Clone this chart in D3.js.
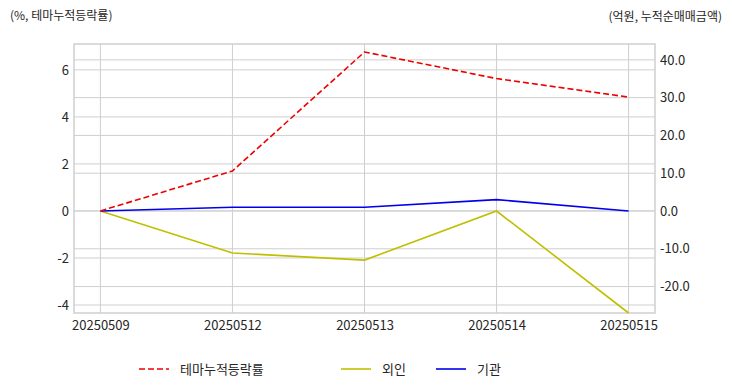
<!DOCTYPE html>
<html><head><meta charset="utf-8">
<script src="https://cdn.jsdelivr.net/npm/d3@7"></script>
<style>body{margin:0;background:#fff;}svg{display:block;font-family:"Noto Sans CJK KR","Noto Sans",sans-serif;}</style>
</head><body><svg id="c" width="732" height="392"></svg>
<script>
const dates = ["20250509","20250512","20250513","20250514","20250515"];
const themeRate = [0, 1.70, 6.76, 5.63, 4.84];
const foreign = [0, -11.1, -13.0, 0, -27.0];
const institution = [0, 1.0, 1.0, 3.0, 0];
const leftTicks = [-4,-2,0,2,4,6];
const rightTicks = [-20,-10,0,10,20,30,40];

const svg = d3.select("#c");
const L = 74, R = 655, T = 44, B = 313;
const x = d3.scalePoint().domain(dates).range([L, R]).padding(0.2);
const yL = d3.scaleLinear().domain([-4.34, 7.1]).range([B, T]);
const yR = d3.scaleLinear().domain([-27.0, 44.2]).range([B, T]);
const grid = "#cfcfcf", txt = "#262626";
const hy = f => d => f(d).replace("\u2212","-");

const g = svg.append("g");
g.selectAll(".gl").data(leftTicks).join("line").attr("x1",L).attr("x2",R)
 .attr("y1",d=>yL(d)).attr("y2",d=>yL(d)).attr("stroke",grid).attr("stroke-width",1);
g.selectAll(".gr").data(rightTicks).join("line").attr("x1",L).attr("x2",R)
 .attr("y1",d=>yR(d)).attr("y2",d=>yR(d)).attr("stroke",grid).attr("stroke-width",1);
g.selectAll(".gx").data(dates).join("line").attr("x1",d=>x(d)).attr("x2",d=>x(d))
 .attr("y1",T).attr("y2",B).attr("stroke",grid).attr("stroke-width",1);
g.append("rect").attr("x",L).attr("y",T).attr("width",R-L).attr("height",B-T)
 .attr("fill","none").attr("stroke",grid).attr("stroke-width",1.5);

const axL = svg.append("g").attr("transform",`translate(${L},0)`)
 .call(d3.axisLeft(yL).tickValues(leftTicks).tickSize(0).tickPadding(5).tickFormat(hy(d3.format("d"))));
const axR = svg.append("g").attr("transform",`translate(${R},0)`)
 .call(d3.axisRight(yR).tickValues(rightTicks).tickSize(0).tickPadding(5).tickFormat(hy(d3.format(".1f"))));
const axX = svg.append("g").attr("transform",`translate(0,${B})`)
 .call(d3.axisBottom(x).tickSize(0).tickPadding(8));
[axL,axR,axX].forEach(a=>{a.select(".domain").remove();
 a.selectAll("text").attr("fill",txt).style("font-size","13px").style("font-family",'"Noto Sans CJK KR",sans-serif');});

const lineL = d3.line().x((d,i)=>x(dates[i])).y(d=>yL(d));
const lineR = d3.line().x((d,i)=>x(dates[i])).y(d=>yR(d));
svg.append("path").datum(foreign).attr("d",lineR).attr("fill","none").attr("stroke","#bfbf00").attr("stroke-width",1.6);
svg.append("path").datum(institution).attr("d",lineR).attr("fill","none").attr("stroke","#0000ee").attr("stroke-width",1.6);
svg.append("path").datum(themeRate).attr("d",lineL).attr("fill","none").attr("stroke","#ee0000").attr("stroke-width",1.6).attr("stroke-dasharray","6,3");

svg.append("text").attr("x",10).attr("y",20).attr("fill",txt).style("font-size","12px").text("(%, 테마누적등락률)");
svg.append("text").attr("x",722).attr("y",21).attr("text-anchor","end").attr("fill",txt).style("font-size","12px").text("(억원, 누적순매매금액)");

const leg = [{n:"테마누적등락률",c:"#ee0000",d:"6,3",x:139},{n:"외인",c:"#bfbf00",d:null,x:341},{n:"기관",c:"#0000ee",d:null,x:436}];
const lg = svg.selectAll(".lg").data(leg).join("g");
lg.append("line").attr("x1",d=>d.x).attr("x2",d=>d.x+30).attr("y1",369).attr("y2",369)
 .attr("stroke",d=>d.c).attr("stroke-width",1.6).attr("stroke-dasharray",d=>d.d);
lg.append("text").attr("x",d=>d.x+41).attr("y",374).attr("fill",txt).style("font-size","13px").text(d=>d.n);
</script></body></html>
